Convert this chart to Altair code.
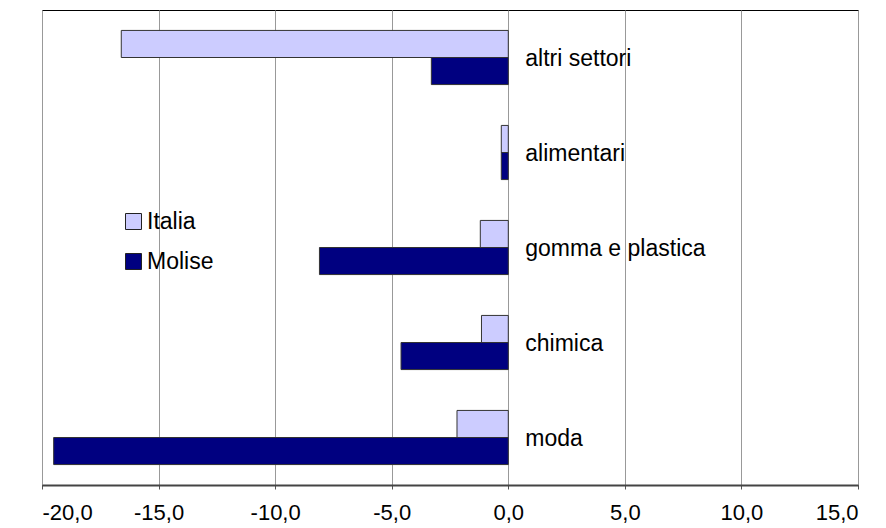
import altair as alt
import pandas as pd

categories = ["altri settori", "alimentari", "gomma e plastica", "chimica", "moda"]
italia = [-16.6, -0.3, -1.2, -1.15, -2.2]
molise = [-3.3, -0.3, -8.1, -4.6, -19.5]
series = ["Italia", "Molise"]
colors = ["#CCCCFF", "#000080"]
ticks = [-20, -15, -10, -5, 0, 5, 10, 15]

rows = []
for c, a, b in zip(categories, italia, molise):
    rows.append({"settore": c, "serie": "Italia", "valore": a})
    rows.append({"settore": c, "serie": "Molise", "valore": b})
df = pd.DataFrame(rows)
labels = pd.DataFrame({"settore": categories, "zero": [0] * len(categories)})

FONT = "Liberation Sans"
FS = 23

yscale = alt.Scale(domain=categories, paddingInner=0.43, paddingOuter=0.215)
xscale = alt.Scale(domain=[-20, 15], nice=False, zero=False)

bars = alt.Chart(df).mark_bar(stroke="#333333", strokeWidth=1).encode(
    y=alt.Y("settore:N", scale=yscale, axis=None, sort=categories),
    yOffset=alt.YOffset("serie:N", sort=series),
    x=alt.X("valore:Q", scale=xscale,
            axis=alt.Axis(values=ticks, title=None, format=".1f",
                          labelExpr="replace(replace(datum.label, '.', ','), '\u2212', '-')",
                          labelFontSize=22, labelFont=FONT, labelColor="black",
                          labelPadding=13, tickSize=4, tickColor="#555555",
                          domainColor="#444444", domainWidth=2,
                          grid=True, gridColor="#999999", gridWidth=1)),
    color=alt.Color("serie:N", sort=series,
                    scale=alt.Scale(domain=series, range=colors),
                    legend=alt.Legend(title=None, orient="none", legendX=80, legendY=200,
                                      symbolType="square", symbolSize=256,
                                      symbolStrokeColor="#222222", symbolStrokeWidth=1,
                                      labelFontSize=FS, labelFont=FONT, labelColor="black",
                                      rowPadding=16, labelOffset=2)),
)

text = alt.Chart(labels).mark_text(align="left", baseline="alphabetic", dx=17, dy=8,
                                   fontSize=FS, font=FONT, color="black").encode(
    y=alt.Y("settore:N", scale=yscale, axis=None, sort=categories),
    x=alt.X("zero:Q", scale=xscale),
    text="settore:N",
)

chart = alt.layer(bars, text).properties(
    width=816, height=475,
    autosize=alt.AutoSizeParams(type="none"),
    padding={"left": 34, "top": 2, "right": 12, "bottom": 43},
).configure_view(stroke="black", strokeWidth=1)

chart.save("out.html", embed_options={"renderer": "svg", "actions": False})
